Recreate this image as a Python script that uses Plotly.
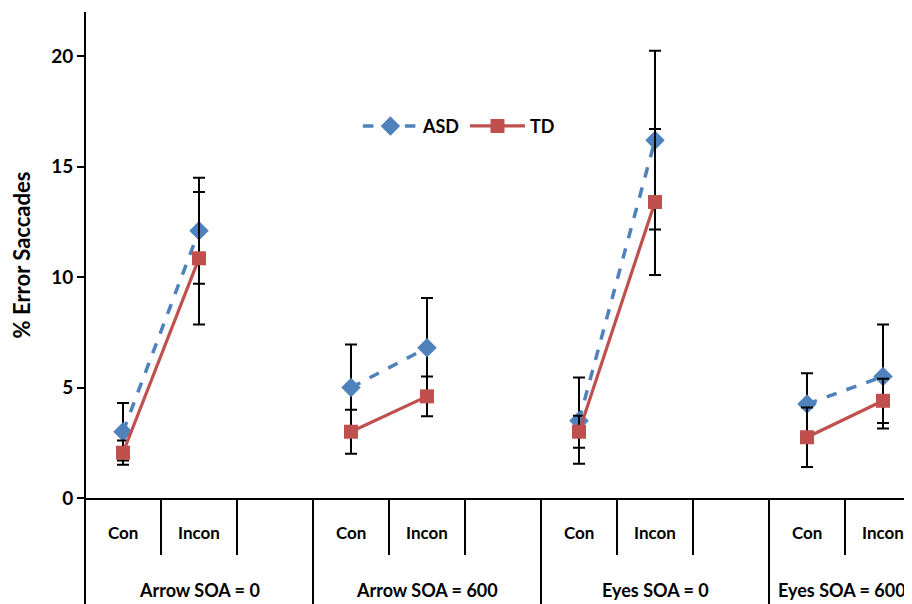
import plotly.graph_objects as go

# ---- data ----
groups = ["Arrow SOA = 0", "Arrow SOA = 600", "Eyes SOA = 0", "Eyes SOA = 600"]
conditions = ["Con", "Incon"]
asd_mean = [3.0, 12.1, 5.0, 6.8, 3.5, 16.2, 4.25, 5.5]
asd_err = [1.3, 2.4, 1.95, 2.25, 1.95, 4.05, 1.4, 2.35]
td_mean = [2.05, 10.85, 3.0, 4.6, 3.0, 13.4, 2.75, 4.4]
td_err = [0.55, 3.0, 1.0, 0.9, 0.72, 3.3, 1.35, 1.0]
y_ticks = [0, 5, 10, 15, 20]

FONT = "Lato"
slots_per_group = 3  # Con, Incon, empty spacer


def build(vals):
    xs, ys = [], []
    for g in range(len(groups)):
        for c in range(len(conditions)):
            xs.append(g * slots_per_group + c)
            ys.append(vals[g * len(conditions) + c])
        xs.append(None)
        ys.append(None)
    return xs, ys


def build_err(errs):
    out = []
    for g in range(len(groups)):
        for c in range(len(conditions)):
            out.append(errs[g * len(conditions) + c])
        out.append(None)
    return out


fig = go.Figure()
ax, ay = build(asd_mean)
tx, ty = build(td_mean)
fig.add_trace(go.Scatter(
    x=ax, y=ay, name="ASD", mode="lines+markers",
    line=dict(color="#4F81BD", width=3.5, dash="dash"),
    marker=dict(symbol="diamond", size=15, color="#4F81BD"),
    error_y=dict(type="data", array=build_err(asd_err), color="black", thickness=2, width=6),
    connectgaps=False, cliponaxis=False,
))
fig.add_trace(go.Scatter(
    x=tx, y=ty, name="TD", mode="lines+markers",
    line=dict(color="#C0504D", width=3.2),
    marker=dict(symbol="square", size=14, color="#C0504D"),
    error_y=dict(type="data", array=build_err(td_err), color="black", thickness=2, width=6),
    connectgaps=False, cliponaxis=False,
))

# page body adds an 8px margin, so the figure is sized to fill the rest
W, H = 904, 596
ml, mr, mt, mb = 77, 0, 4, 106
plot_h = H - mt - mb
slot_px = 76
n_slots_visible = (W - ml - mr) / slot_px
x_range = [-0.5, -0.5 + n_slots_visible]

shapes = []
shapes.append(dict(type="line", xref="paper", yref="paper", x0=0, x1=0,
                   y0=-mb / plot_h, y1=1, line=dict(color="black", width=2)))
n_total = len(groups) * slots_per_group
for b in range(n_total):
    xb = b + 0.5
    if (b + 1) % slots_per_group == 0:
        y0 = -mb / plot_h
    else:
        y0 = -57 / plot_h
    shapes.append(dict(type="line", xref="x", yref="paper", x0=xb, x1=xb,
                       y0=y0, y1=0, line=dict(color="black", width=2)))

annotations = []
for g in range(len(groups)):
    for c, cond in enumerate(conditions):
        annotations.append(dict(x=g * slots_per_group + c, y=-34 / plot_h, xref="x", yref="paper",
                                text=cond, showarrow=False,
                                font=dict(family=FONT, size=17, color="black", weight="bold"),
                                yanchor="middle"))
    gx = g * slots_per_group + 1
    if gx + 0.9 > x_range[1]:
        gx = x_range[1] - 0.92
    annotations.append(dict(x=gx, y=-92 / plot_h, xref="x", yref="paper",
                            text=groups[g], showarrow=False,
                            font=dict(family=FONT, size=18, color="black", weight="bold"),
                            yanchor="middle"))

fig.update_layout(
    width=W, height=H,
    margin=dict(l=ml, r=mr, t=mt, b=mb),
    paper_bgcolor="white", plot_bgcolor="white",
    font=dict(family=FONT, color="black"),
    xaxis=dict(range=x_range, showgrid=False, zeroline=False, showticklabels=False,
               ticks="", showline=True, linecolor="black", linewidth=2),
    yaxis=dict(range=[0, 22], tickvals=y_ticks, showgrid=False, zeroline=False,
               showline=False, ticks="outside", ticklen=7, tickwidth=2, tickcolor="black",
               tickfont=dict(family=FONT, size=19, color="black", weight="bold"),
               title=dict(text="% Error Saccades", standoff=18,
                          font=dict(family=FONT, size=22, color="black", weight="bold"))),
    legend=dict(orientation="h", x=0.33, y=0.765, xanchor="left", yanchor="middle",
                bgcolor="rgba(0,0,0,0)", itemwidth=55,
                font=dict(family=FONT, size=18, color="black", weight="bold")),
    shapes=shapes, annotations=annotations,
)

fig.write_html("out.html")
